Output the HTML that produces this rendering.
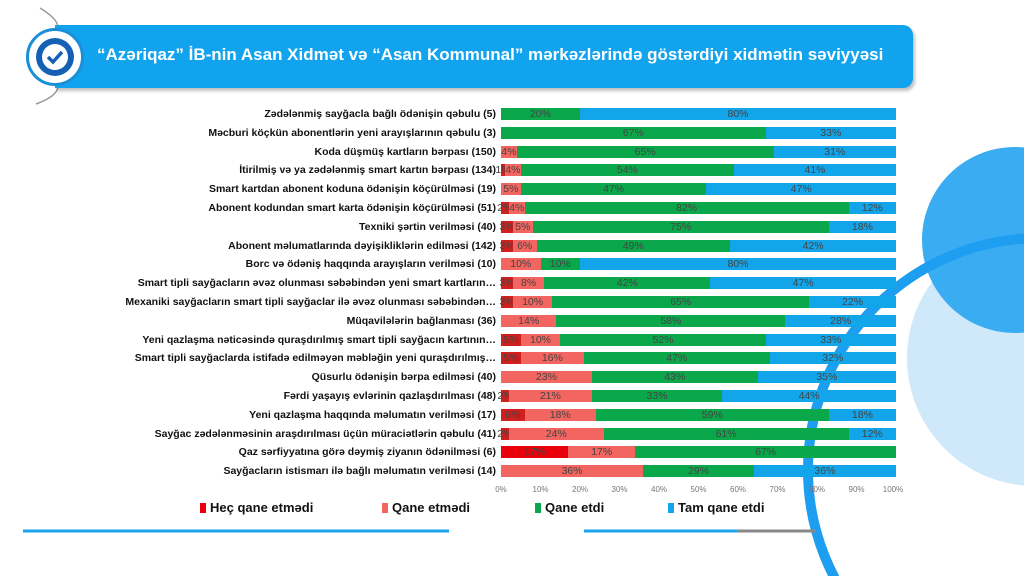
<!DOCTYPE html>
<html><head><meta charset="utf-8"><style>
*{margin:0;padding:0;box-sizing:border-box}
html,body{width:1024px;height:576px;overflow:hidden}
body{background:#fff;position:relative;font-family:"Liberation Sans",sans-serif}
.deco{position:absolute;left:0;top:0}
.banner{position:absolute;left:55px;top:25px;width:858px;height:63px;background:#12a3ee;border-radius:0 10px 10px 0;box-shadow:2px 3px 3px rgba(0,0,0,.25)}
.title{position:absolute;left:97px;top:45px;color:#fff;font-weight:bold;font-size:17px;white-space:nowrap}
.icon{position:absolute;left:26px;top:28px;width:58px;height:58px;border-radius:50%;background:#fff;border:3px solid #1a8fd8}
.lbl{position:absolute;right:528px;font-weight:bold;font-size:10.5px;color:#111;white-space:nowrap;text-align:right;line-height:12px}
.bar{position:absolute;left:501px;width:395px;height:12px;display:flex}
.bar div{height:12px;font-size:10.5px;color:#444;text-align:center;line-height:12px;white-space:nowrap;overflow:visible;display:flex;justify-content:center}
.h{background:#cf1f1f}.q{background:#f26560}.g{background:#0aa84a}.t{background:#12a5ea}
.tick{position:absolute;top:485px;font-size:8px;color:#777;transform:translateX(-50%)}
.leg{position:absolute;top:500px;font-weight:bold;font-size:13px;color:#111}
.leg i{display:inline-block;width:6px;height:10px;margin-right:4px;vertical-align:-1px}
</style></head><body>
<svg class="deco" width="1024" height="576">
<circle cx="1035" cy="358" r="128" fill="#cfe9fa"/>
<circle cx="1015" cy="240" r="93" fill="#3aacf2"/>
<circle cx="1040" cy="470" r="232" fill="none" stroke="#1e9ef0" stroke-width="10"/>
<path d="M40 8 Q60 20 58 30" stroke="#999" stroke-width="1.5" fill="none"/>
<path d="M58 86 Q58 96 36 104" stroke="#999" stroke-width="1.5" fill="none"/>
<line x1="23" y1="531" x2="449" y2="531" stroke="#1ba3ec" stroke-width="3"/>
<line x1="584" y1="531" x2="737" y2="531" stroke="#1ba3ec" stroke-width="3"/>
<line x1="737" y1="531" x2="816" y2="531" stroke="#888" stroke-width="3"/>
</svg>
<div class="banner"></div>
<div class="icon"><svg width="52" height="52" viewBox="0 0 52 52"><circle cx="26" cy="26" r="19" fill="#1560b5"/><circle cx="26" cy="26" r="13" fill="#fff"/><path d="M19 26 l5 5 l9 -10" stroke="#1560b5" stroke-width="3.5" fill="none"/></svg></div>
<div class="title">“Azəriqaz” İB-nin Asan Xidmət və “Asan Kommunal” mərkəzlərində göstərdiyi xidmətin səviyyəsi</div>
<div id="c"></div>
<div class="tick" style="left:501px">0%</div><div class="tick" style="left:540.5px">10%</div><div class="tick" style="left:580px">20%</div><div class="tick" style="left:619.5px">30%</div><div class="tick" style="left:659px">40%</div><div class="tick" style="left:698.5px">50%</div><div class="tick" style="left:738px">60%</div><div class="tick" style="left:777.5px">70%</div><div class="tick" style="left:817px">80%</div><div class="tick" style="left:856.5px">90%</div><div class="tick" style="left:893px">100%</div>
<div class="leg" style="left:200px"><i style="background:#e8000a"></i>Heç qane etmədi</div>
<div class="leg" style="left:382px"><i style="background:#f26560"></i>Qane etmədi</div>
<div class="leg" style="left:535px"><i style="background:#0aa84a"></i>Qane etdi</div>
<div class="leg" style="left:668px"><i style="background:#12a5ea"></i>Tam qane etdi</div>
<script>
var L=["Zədələnmiş sayğacla bağlı ödənişin qəbulu (5)","Məcburi köçkün abonentlərin yeni arayışlarının qəbulu (3)","Koda düşmüş kartların bərpası (150)","İtirilmiş və ya zədələnmiş smart kartın bərpası (134)","Smart kartdan abonent koduna ödənişin köçürülməsi (19)","Abonent kodundan smart karta ödənişin köçürülməsi (51)","Texniki şərtin verilməsi (40)","Abonent məlumatlarında dəyişikliklərin edilməsi (142)","Borc və ödəniş haqqında arayışların verilməsi (10)","Smart tipli sayğacların əvəz olunması səbəbindən yeni smart kartların…","Mexaniki sayğacların smart tipli sayğaclar ilə əvəz olunması səbəbindən…","Müqavilələrin bağlanması (36)","Yeni qazlaşma nəticəsində quraşdırılmış smart tipli sayğacın kartının…","Smart tipli sayğaclarda istifadə edilməyən məbləğin yeni quraşdırılmış…","Qüsurlu ödənişin bərpa edilməsi (40)","Fərdi yaşayış evlərinin qazlaşdırılması (48)","Yeni qazlaşma haqqında məlumatın verilməsi (17)","Sayğac zədələnməsinin araşdırılması üçün müraciətlərin qəbulu (41)","Qaz sərfiyyatına görə dəymiş ziyanın ödənilməsi (6)","Sayğacların istismarı ilə bağlı məlumatın verilməsi (14)"];
var D=[[0,0,20,80],[0,0,67,33],[0,4,65,31],[1,4,54,41],[0,5,47,48],[2,4,82,12],[3,5,75,17],[3,6,49,42],[0,10,10,80],[3,8,42,47],[3,10,65,22],[0,14,58,28],[5,10,52,33],[5,16,47,32],[0,23,42,35],[2,21,33,44],[6,18,59,17],[2,24,62,12],[17,17,66,0],[0,36,28,36]];
var h="",cl=["h","q","g","t"];
for(var i=0;i<20;i++){var y=108+i*18.8;
h+='<div class="lbl" style="top:'+y+'px">'+L[i]+'</div><div class="bar" style="top:'+y+'px">';
var d=D[i],sm=d[0]+d[1]+d[2]+d[3];
for(var k=0;k<4;k++){if(!d[k])continue;var v=d[k];var lab=(i==3&&k==3)?41:(i==6&&k==3)?18:(i==16&&k==3)?18:(i==18&&k==2)?67:(i==14&&k==2)?43:(i==17&&k==2)?61:(i==4&&k==3)?47:(i==19&&k==2)?29:v;
h+='<div class="'+cl[k]+'" style="width:'+(v/sm*100)+'%'+(i==18&&k==0?';background:#e8000a':'')+'">'+lab+'%</div>';}
h+='</div>';}
document.getElementById("c").innerHTML=h;
</script>
</body></html>
